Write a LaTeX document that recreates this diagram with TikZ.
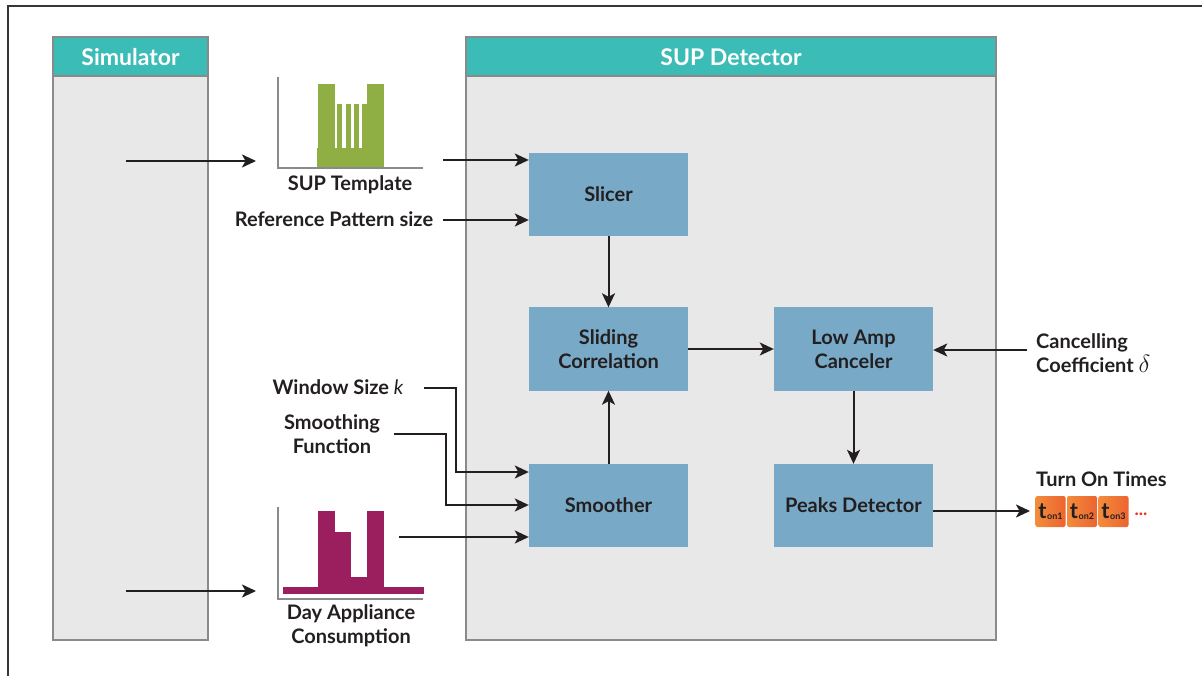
\documentclass[tikz,border=0pt]{standalone}
\usepackage{fontspec}
\setmainfont{Lato}
\usetikzlibrary{arrows.meta}
\definecolor{teal1}{RGB}{59,188,182}
\definecolor{panel}{RGB}{232,232,232}
\definecolor{panelline}{RGB}{138,138,138}
\definecolor{blk}{RGB}{120,170,200}
\definecolor{ink}{RGB}{35,31,32}
\definecolor{grn}{RGB}{143,175,69}
\definecolor{plum}{RGB}{155,31,94}
\definecolor{orgL}{RGB}{242,140,60}
\definecolor{orgR}{RGB}{236,100,48}
\definecolor{dotred}{RGB}{235,50,40}
\tikzset{
  x=1pt,y=-1pt,
  panelbox/.style={fill=panel,draw=panelline,line width=1.2pt},
  headbox/.style={fill=teal1,draw=panelline,line width=1.2pt},
  headtext/.style={text=white,font=\fontsize{23}{26}\selectfont\bfseries},
  procbox/.style={fill=blk,minimum width=159pt,minimum height=83pt,inner sep=0pt,align=center,text=ink,font=\fontsize{20}{24}\selectfont\bfseries},
  lbl/.style={text=ink,font=\fontsize{20}{24}\selectfont\bfseries,inner sep=0pt,align=center},
  arr/.style={draw=ink,line width=2pt,-{Stealth[length=14pt,width=13pt,inset=3.5pt]}},
  axisline/.style={draw=panelline,line width=2.5pt},
  tbox/.style={left color=orgL,right color=orgR,rounded corners=2pt,minimum width=30pt,minimum height=31pt,inner sep=0pt,text=ink},
}
\newcommand{\ton}[1]{\fontsize{22}{22}\selectfont\bfseries t\kern0.5pt\raisebox{-1.5pt}{\fontsize{9}{9}\selectfont on#1}}
\begin{document}
\begin{tikzpicture}
\useasboundingbox (0,0) rectangle (1202,676);
% outer frame
\draw[line width=2pt,color=ink!90] (8,676) -- (8,6) -- (1202,6);
% Simulator panel
\draw[panelbox] (53,76) rectangle (208,640);
\draw[headbox] (53,37) rectangle (208,76);
\node[headtext] (simh) at (130.5,57) {Simulator};
% SUP Detector panel
\draw[panelbox] (466,76) rectangle (996,640);
\draw[headbox] (466,37) rectangle (996,76);
\node[headtext] (deth) at (731,57) {SUP Detector};
% process blocks
\node[procbox] (slicer) at (608.5,194.5) {Slicer};
\node[procbox] (slide) at (608.5,349) {Sliding\\Correlation};
\node[procbox] (lowamp) at (853.5,349) {Low Amp\\Canceler};
\node[procbox] (smooth) at (608.5,505.5) {Smoother};
\node[procbox] (peaks) at (853.5,505.5) {Peaks Detector};
% SUP template chart
\fill[grn] (318,84) rectangle (335,167);
\fill[grn] (367,84) rectangle (384,167);
\fill[grn] (317,148) rectangle (384,167);
\foreach \a in {337,346,354,362}{\fill[grn] (\a,104) rectangle (\a+4.5,167);}
\draw[axisline] (278,77) -- (278,168) -- (423,168);
\node[lbl] (tmpl) at (350,185) {SUP Template};
% Day appliance chart
\fill[plum] (283,587) rectangle (424,594);
\fill[plum] (318,511) rectangle (335,594);
\fill[plum] (335,532) rectangle (351,594);
\fill[plum] (351,577) rectangle (367,594);
\fill[plum] (367,511) rectangle (384,594);
\draw[axisline] (278,507) -- (278,599) -- (423,599);
\node[lbl] (day) at (351,626) {Day Appliance\\Consumption};
% labels
\node[lbl] (refp) at (334,219) {Reference Pattern size};
\node[lbl] (win) at (338,387) {Window Size {\mdseries\itshape k}};
\node[lbl] (sfun) at (332,434) {Smoothing\\Function};
\node[lbl,align=left,anchor=west] (canc) at (1036,353) {Cancelling\\Coefficient {\fontsize{36}{24}\selectfont$\delta$}};
\node[lbl,anchor=west] (turn) at (1036,479) {Turn On Times};
\node[tbox] (t1) at (1050.5,511.5) {\ton{1}};
\node[tbox] (t2) at (1082,511.5) {\ton{2}};
\node[tbox] (t3) at (1113.5,511.5) {\ton{3}};
\node[text=dotred,font=\fontsize{18}{18}\selectfont\bfseries,inner sep=0pt] (dots) at (1141,514) {...};
% connector endpoints
\coordinate (sim1) at (126,161);
\coordinate (tin) at (256,161);
\coordinate (sim2) at (126,591);
\coordinate (din) at (256,591);
\coordinate (tout) at (443,160);
\coordinate (rout) at (443,220);
\coordinate (wout) at (424,388);
\coordinate (fout) at (394,434);
\coordinate (dout) at (399,537);
\coordinate (cout) at (1027,350);
\coordinate (pend) at (1030,511);
% connectors
\draw[arr] (sim1) -- (tin);
\draw[arr] (sim2) -- (din);
\draw[arr] (tout) -- (slicer.west |- tout);
\draw[arr] (rout) -- (slicer.west |- rout);
\draw[arr] (slicer.south) -- (slide.north);
\draw[arr] (slide.east) -- (lowamp.west);
\draw[arr] (cout) -- (lowamp.east |- cout);
\draw[arr] (lowamp.south) -- (peaks.north);
\draw[arr] (smooth.north) -- (slide.south);
\draw[arr] (wout) -- (456,388) -- (456,472) -- (smooth.west |- 0,472);
\draw[arr] (fout) -- (446,434) -- (446,505) -- (smooth.west |- 0,505);
\draw[arr] (dout) -- (smooth.west |- dout);
\draw[arr] (peaks.east |- pend) -- (pend);
\end{tikzpicture}
\end{document}
